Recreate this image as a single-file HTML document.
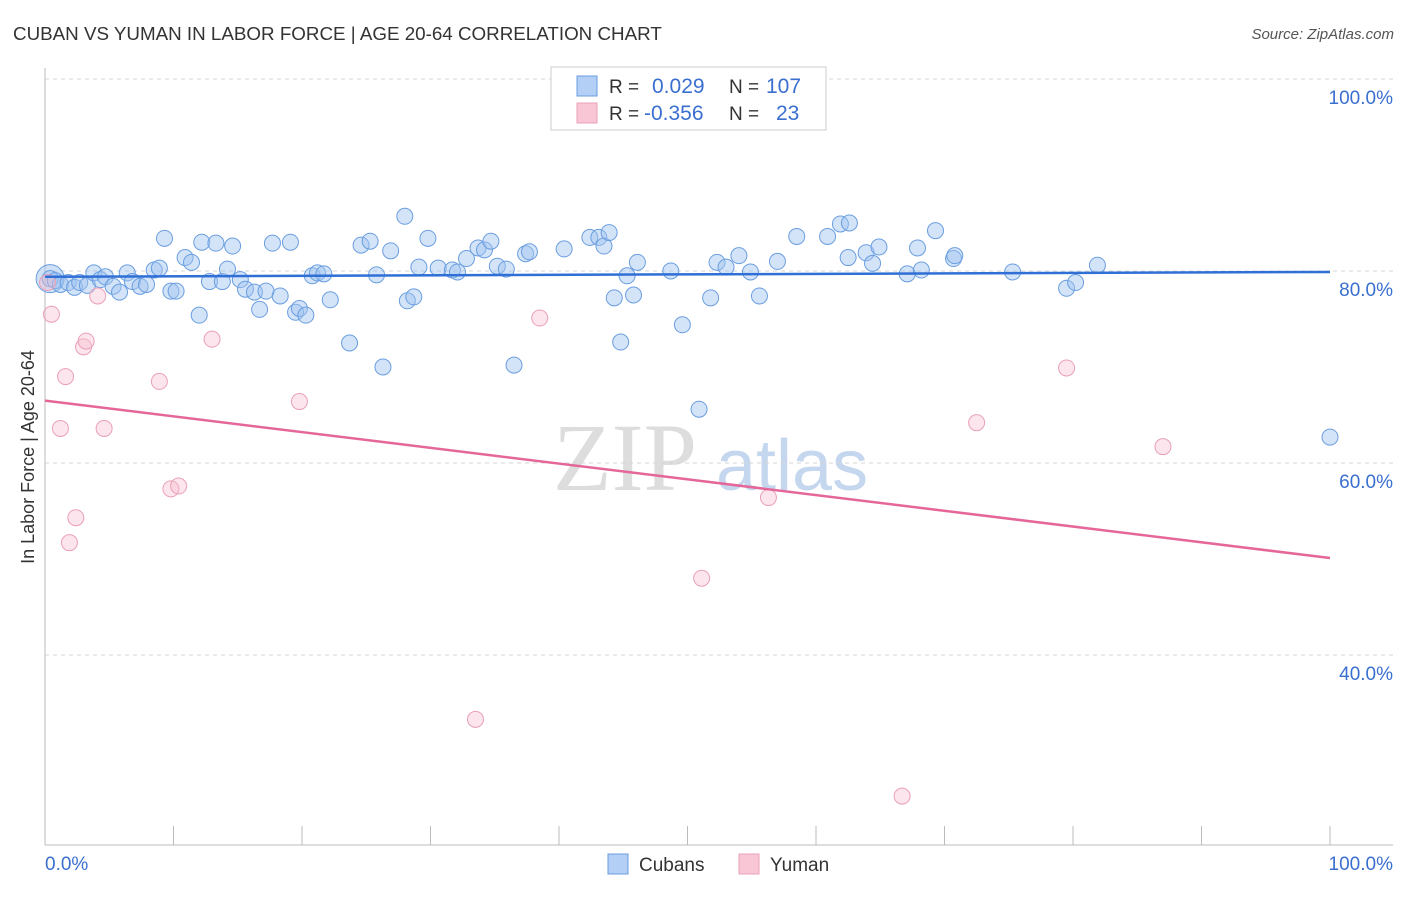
<!DOCTYPE html>
<html><head><meta charset="utf-8"><style>
body{margin:0;background:#fff;font-family:"Liberation Sans",sans-serif;}
</style></head><body>
<svg id="chart" width="1406" height="892" xmlns="http://www.w3.org/2000/svg" font-family="Liberation Sans, sans-serif">
<text x="13" y="40" font-size="18.8" fill="#333">CUBAN VS YUMAN IN LABOR FORCE | AGE 20-64 CORRELATION CHART</text>
<text x="1394" y="39" font-size="15" fill="#555" font-style="italic" text-anchor="end">Source: ZipAtlas.com</text>
<g>
<text x="553" y="490" font-size="96" font-family="Liberation Serif, serif" fill="#ddd">ZIP</text>
<text x="716" y="490" font-size="72" fill="#c5d7ee">atlas</text>
</g>
<g id="grid"></g>
<g id="axes"></g>
<g id="marks"></g>
<text transform="translate(34,457) rotate(-90)" font-size="18" fill="#333" text-anchor="middle">In Labor Force | Age 20-64</text>
<g>
<rect x="551" y="67" width="275" height="63" fill="#fff" stroke="#ccc"/>
<rect x="577" y="76" width="20" height="20" fill="#b3cff5" stroke="#6a9ee0"/>
<rect x="577" y="103" width="20" height="20" fill="#f9c6d5" stroke="#eaa0b8"/>
<text x="609" y="93" font-size="19" fill="#333">R =</text>
<text x="652" y="93" font-size="21" fill="#3a6fd0">0.029</text>
<text x="729" y="93" font-size="19" fill="#333">N =</text>
<text x="766" y="93" font-size="21" fill="#3a6fd0">107</text>
<text x="609" y="120" font-size="19" fill="#333">R =</text>
<text x="644" y="120" font-size="21" fill="#3a6fd0">-0.356</text>
<text x="729" y="120" font-size="19" fill="#333">N =</text>
<text x="776" y="120" font-size="21" fill="#3a6fd0">23</text>
</g>
<g>
<rect x="608" y="854" width="20" height="20" fill="#b3cff5" stroke="#6a9ee0"/>
<text x="639" y="871" font-size="19" fill="#333">Cubans</text>
<rect x="739" y="854" width="20" height="20" fill="#f9c6d5" stroke="#eaa0b8"/>
<text x="770" y="871" font-size="19" fill="#333">Yuman</text>
</g>
</svg>
<script>
const yTicks=[40,60,80,100];
const yTickLabels=["40.0%","60.0%","80.0%","100.0%"];
const xTicks=[0,10,20,30,40,50,60,70,80,90,100];
const cubanX=[0.4,0.8,1.2,1.8,2.3,2.7,3.3,3.8,4.3,4.7,5.3,5.8,6.4,6.8,7.4,7.9,8.5,8.9,9.3,9.8,10.2,10.9,11.4,12.0,12.2,12.8,13.3,13.8,14.2,14.6,15.2,15.6,16.3,16.7,17.2,17.7,18.3,19.1,19.5,19.8,20.3,20.8,21.2,21.7,22.2,23.7,24.6,25.3,25.8,26.3,26.9,28.0,28.2,28.7,29.1,29.8,30.6,31.7,32.1,32.8,33.7,34.2,34.7,35.2,35.9,36.5,37.4,37.7,40.4,42.4,43.1,43.5,43.9,44.3,44.8,45.3,45.8,46.1,48.7,49.6,50.9,51.8,52.3,53.0,54.0,54.9,55.6,57.0,58.5,60.9,61.9,62.5,62.6,63.9,64.4,64.9,67.1,67.9,68.2,69.3,70.7,70.8,75.3,79.5,80.2,81.9,100];
const cubanY=[79.2,79.0,78.6,78.8,78.3,78.8,78.5,79.8,79.1,79.4,78.4,77.8,79.8,78.9,78.4,78.6,80.1,80.3,83.4,77.9,77.9,81.4,80.9,75.4,83.0,78.9,82.9,78.9,80.2,82.6,79.1,78.1,77.8,76.0,77.9,82.9,77.4,83.0,75.7,76.1,75.4,79.5,79.8,79.7,77.0,72.5,82.7,83.1,79.6,70.0,82.1,85.7,76.9,77.3,80.4,83.4,80.3,80.1,79.9,81.3,82.4,82.2,83.1,80.5,80.2,70.2,81.8,82.0,82.3,83.5,83.5,82.6,84.0,77.2,72.6,79.5,77.5,80.9,80.0,74.4,65.6,77.2,80.9,80.4,81.6,79.9,77.4,81.0,83.6,83.6,84.9,81.4,85.0,81.9,80.8,82.5,79.7,82.4,80.1,84.2,81.3,81.6,79.9,78.2,78.8,80.6,62.7];
const yumanX=[0.2,0.5,1.2,1.6,1.9,2.4,3.0,3.2,4.1,4.6,8.9,9.8,10.4,13.0,19.8,33.5,38.5,51.1,56.3,66.7,72.5,79.5,87.0];
const yumanY=[78.8,75.5,63.6,69.0,51.7,54.3,72.1,72.7,77.4,63.6,68.5,57.3,57.6,72.9,66.4,33.3,75.1,48.0,56.4,25.3,64.2,69.9,61.7];
const cubanTrend=[79.4,79.9];
const yumanTrend=[66.5,50.1];

const NS="http://www.w3.org/2000/svg";
const X0=45,X1=1330,Y100=79,PXPER=9.6;
function sx(v){return X0+(X1-X0)*v/100;}
function sy(v){return Y100+(100-v)*PXPER;}
function mk(tag,attrs,parent){const e=document.createElementNS(NS,tag);for(const k in attrs)e.setAttribute(k,attrs[k]);parent.appendChild(e);return e;}
const grid=document.getElementById('grid'),axes=document.getElementById('axes'),marks=document.getElementById('marks');
yTicks.forEach((t,i)=>{
 const l=mk('line',{x1:45,x2:1393,y1:sy(t),y2:sy(t),stroke:'#d5d5d5','stroke-dasharray':'4,4'},grid);
 
 
 const tx=mk('text',{x:1393,y:sy(t)+25,'font-size':19,fill:'#3a6fd0','text-anchor':'end'},axes);
 tx.textContent=yTickLabels[i];
 
 
});
const ya=mk('line',{x1:45,x2:45,y1:68,y2:845,stroke:'#bbb'},axes);


const xa=mk('line',{x1:45,x2:1393,y1:845,y2:845,stroke:'#bbb'},axes);


xTicks.forEach(t=>{
 const l=mk('line',{x1:sx(t),x2:sx(t),y1:826,y2:845,stroke:'#bbb'},axes);
 
 
});
const xl0=mk('text',{x:45,y:870,'font-size':19,fill:'#3a6fd0'},axes);xl0.textContent='0.0%';


const xl1=mk('text',{x:1393,y:870,'font-size':19,fill:'#3a6fd0','text-anchor':'end'},axes);xl1.textContent='100.0%';



const big=mk('circle',{cx:sx(cubanX[0]),cy:sy(cubanY[0]),r:14,fill:'rgba(160,196,240,0.5)',stroke:'#6a9ee0','stroke-width':1},marks);


cubanX.forEach((x,i)=>{
 const c=mk('circle',{cx:sx(x),cy:sy(cubanY[i]),r:8,fill:'rgba(160,196,240,0.45)',stroke:'#6a9ee0','stroke-width':1},marks);
 
 
});
yumanX.forEach((x,i)=>{
 const c=mk('circle',{cx:sx(x),cy:sy(yumanY[i]),r:8,fill:'rgba(248,190,208,0.4)',stroke:'#eaa0b8','stroke-width':1},marks);
 
 
});
const t1=mk('line',{x1:sx(0),x2:sx(100),y1:sy(cubanTrend[0]),y2:sy(cubanTrend[1]),stroke:'#2f6fd6','stroke-width':2.5},marks);


const t2=mk('line',{x1:sx(0),x2:sx(100),y1:sy(yumanTrend[0]),y2:sy(yumanTrend[1]),stroke:'#e5679a','stroke-width':2.5},marks);


</script>
</body></html>
